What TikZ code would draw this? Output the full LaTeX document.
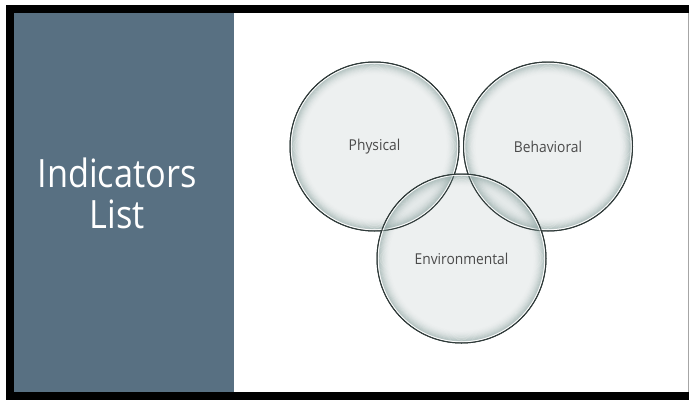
\documentclass[tikz,border=0pt]{standalone}
\usepackage{fontspec}
\setmainfont{Open Sans}
\newfontfamily\titlefont[FakeStretch=0.88]{Open Sans}
\newfontfamily\labelfont[FakeStretch=0.92]{Open Sans}
\definecolor{panelblue}{HTML}{587082}
\definecolor{rimcol}{HTML}{2F3A39}
\definecolor{glA}{HTML}{DDE3E3}
\definecolor{glC}{HTML}{7E9895}
\definecolor{labelgray}{HTML}{4A4A4A}
\tikzset{
  bubble/.style={circle, minimum size=169pt, inner sep=0pt, fill=glA,
    fill opacity=0.5, text opacity=1, draw=rimcol, draw opacity=1, line width=1pt,
    font=\labelfont\fontsize{15}{17}\selectfont, text=labelgray},
  highlight/.style={white, line width=0.8pt, opacity=0.85},
  titletext/.style={text=white, font=\titlefont\fontsize{39}{41}\selectfont, inner sep=0pt, anchor=base}
}
\begin{document}
\begin{tikzpicture}[x=1pt,y=-1pt]
\useasboundingbox (0,0) rectangle (689,400);
\fill[white] (0,0) rectangle (689,400);
\fill[black] (6,5) rectangle (689,400);
\fill[panelblue] (14,13) rectangle (234,392);
\fill[white] (234,13) rectangle (688,392);
\fill[gray!70] (688,13) rectangle (689,392);
\node[titletext] (t1) at (117,187) {Indicators};
\node[titletext] (t2) at (117,228) {List};
\node[bubble] (phys) at (374.5,146.5) {Physical};
\node[bubble] (beh) at (548,146.5) {Behavioral};
\node[bubble] (env) at (461.5,258.5) {Environmental};
\foreach \n in {phys,beh,env}{
  \foreach \i in {0,...,11}{
    \draw[glC, line width=1.05pt, opacity={0.42*(1-\i/12)^2}] (\n.center) circle ({82.3-\i*0.9});
  }
  \draw[highlight] (\n.center) circle (83.4pt);
  \draw[rimcol, line width=1pt] (\n.center) circle (84.5pt);
}
\end{tikzpicture}
\end{document}
